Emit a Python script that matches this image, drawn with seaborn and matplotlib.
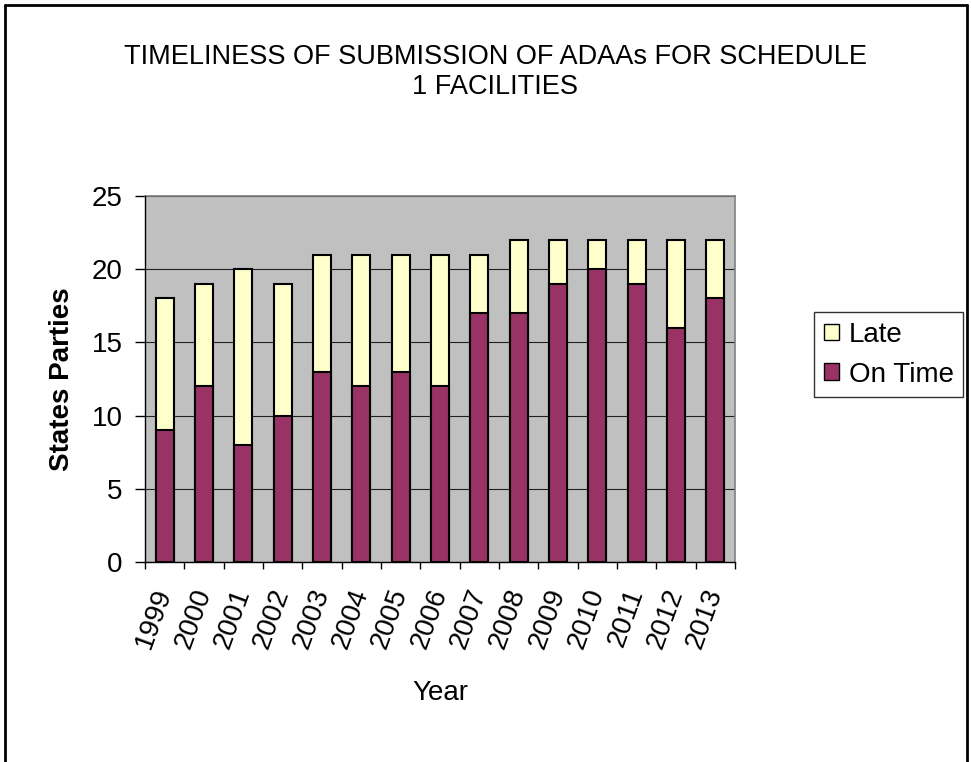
import matplotlib
matplotlib.use("Agg")
import matplotlib.pyplot as plt
import seaborn as sns
import pandas as pd
from matplotlib.patches import Patch
from matplotlib.lines import Line2D

years = ["1999", "2000", "2001", "2002", "2003", "2004", "2005", "2006",
         "2007", "2008", "2009", "2010", "2011", "2012", "2013"]
on_time = [9, 12, 8, 10, 13, 12, 13, 12, 17, 17, 19, 20, 19, 16, 18]
late = [9, 7, 12, 9, 8, 9, 8, 9, 4, 5, 3, 2, 3, 6, 4]

total = [a + b for a, b in zip(on_time, late)]
df = pd.DataFrame({"Year": years, "On Time": on_time, "Late": late, "Total": total})

sns.set_style("white")
plt.rcParams["font.family"] = ["Liberation Sans", "DejaVu Sans"]
plt.rcParams["text.color"] = "black"
plt.rcParams["axes.labelcolor"] = "black"
plt.rcParams["xtick.color"] = "black"
plt.rcParams["ytick.color"] = "black"

fig = plt.figure(figsize=(9.71, 7.62), dpi=100)
ax = fig.add_axes([145 / 971, 1 - 562 / 762, 590 / 971, 366 / 762])
ax.set_facecolor("#C0C0C0")

late_c = "#FFFFCC"
on_c = "#993366"

sns.barplot(data=df, x="Year", y="Total", color=late_c, width=0.46,
            edgecolor="black", linewidth=1.5, saturation=1, ax=ax, zorder=3)
sns.barplot(data=df, x="Year", y="On Time", color=on_c, width=0.46,
            edgecolor="black", linewidth=1.5, saturation=1, ax=ax, zorder=4)

ax.set_xlim(-0.5, len(years) - 0.5)
ax.set_ylim(0, 25)
ax.set_yticks([0, 5, 10, 15, 20, 25])
ax.yaxis.grid(True, color="#202020", linewidth=0.8)
ax.set_axisbelow(True)

for s in ["top", "right"]:
    ax.spines[s].set_color("#808080")
    ax.spines[s].set_linewidth(1.2)
for s in ["left", "bottom"]:
    ax.spines[s].set_color("black")
    ax.spines[s].set_linewidth(1.0)
    ax.spines[s].set_zorder(5)

ax.tick_params(axis="y", left=True, length=7, width=1, colors="black",
               labelsize=20, pad=9)
ax.set_xticks(range(len(years)))
ax.set_xticklabels(years, rotation=70, ha="right", va="center",
                   rotation_mode="anchor", fontsize=20)
ax.tick_params(axis="x", which="major", length=0, pad=20)
ax.set_xticks([i - 0.5 for i in range(len(years) + 1)], minor=True)
ax.tick_params(axis="x", which="minor", bottom=True, length=5, width=1,
               color="black")

ax.set_xlabel("Year", fontsize=20, labelpad=20)
ax.set_ylabel("States Parties", fontsize=20, fontweight="bold", labelpad=12)

fig.text(495 / 971, 1 - 72 / 762,
         "TIMELINESS OF SUBMISSION OF ADAAs FOR SCHEDULE\n1 FACILITIES",
         ha="center", va="center", fontsize=19.5, linespacing=1.25)

handles = [Patch(facecolor=late_c, edgecolor="black", label="Late"),
           Patch(facecolor=on_c, edgecolor="black", label="On Time")]
leg = fig.legend(handles=handles, loc="upper left",
                 bbox_to_anchor=(814 / 971, 1 - 312 / 762),
                 fontsize=20, frameon=True, fancybox=False,
                 edgecolor="black", handlelength=0.55, handleheight=0.55,
                 handletextpad=0.35, borderpad=0.35, labelspacing=0.5,
                 borderaxespad=0)
leg.get_frame().set_linewidth(1.0)

# figure border (left, top, right)
fig.add_artist(Line2D([5 / 971, 5 / 971], [0, 1 - 5 / 762],
                      transform=fig.transFigure, color="black", linewidth=2))
fig.add_artist(Line2D([5 / 971, 967 / 971], [1 - 5 / 762, 1 - 5 / 762],
                      transform=fig.transFigure, color="black", linewidth=2))
fig.add_artist(Line2D([967 / 971, 967 / 971], [0, 1 - 5 / 762],
                      transform=fig.transFigure, color="black", linewidth=2))

fig.savefig("out.png", dpi=100, facecolor="white")
